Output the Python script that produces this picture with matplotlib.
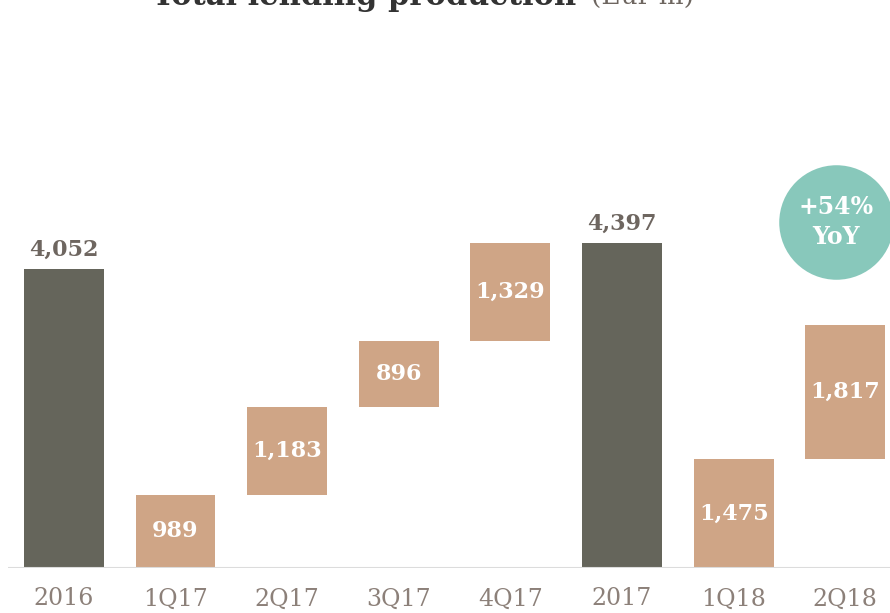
import matplotlib.pyplot as plt

# values (Eur m)
labels = ["2016", "1Q17", "2Q17", "3Q17", "4Q17", "2017", "1Q18", "2Q18"]
values = [4052, 989, 1183, 896, 1329, 4397, 1475, 1817]
is_total = [True, False, False, False, False, True, False, False]
yoy_text = "+54%\nYoY"

DARK = "#65655b"
TAN = "#cfa586"
TEAL = "#88c8bb"
LABEL_GREY = "#6e6660"
TICK_GREY = "#8c8079"

plt.rcParams["font.family"] = ["DejaVu Serif"]

fig = plt.figure(figsize=(8.9, 6.13), dpi=100)
ax = fig.add_axes([8 / 890, 45 / 613, 882 / 890, 568 / 613])

# waterfall bottoms: quarters stack on a running sum, totals reset it
bottoms = []
running = 0
for v, tot in zip(values, is_total):
    if tot:
        bottoms.append(0)
        running = 0
    else:
        bottoms.append(running)
        running += v

x = list(range(len(labels)))
colors = [DARK if t else TAN for t in is_total]
ax.bar(x, values, bottom=bottoms, width=0.715, color=colors, zorder=2)

for xi, v, b, tot in zip(x, values, bottoms, is_total):
    txt = f"{v:,}"
    if tot:
        ax.text(xi, v + 110, txt, ha="center", va="bottom", fontsize=16,
                fontweight="bold", color=LABEL_GREY)
    else:
        ax.text(xi, b + v / 2, txt, ha="center", va="center", fontsize=16,
                fontweight="bold", color="white", zorder=3)

ax.axhline(0, color="#dcdcdc", lw=1.5, zorder=3)
ax.set_xlim(-0.5, 7.4)
ax.set_ylim(0, 7686)

ax.set_xticks(x)
ax.set_xticklabels(labels, fontsize=17, color=TICK_GREY)
ax.tick_params(axis="x", length=0, pad=14)
ax.set_yticks([])
for s in ax.spines.values():
    s.set_visible(False)

# YoY bubble
ax.scatter([0.939], [0.609], s=6800, color=TEAL, transform=ax.transAxes,
           zorder=4, clip_on=False, linewidths=0)
ax.text(0.939, 0.609, yoy_text, transform=ax.transAxes, ha="center",
        va="center", fontsize=17, fontweight="bold", color="white",
        linespacing=1.35, zorder=5)

# title (cut off at the top, as in the reference)
fig.text(0.648, 1 - 5 / 613, "Total lending production", ha="right",
         va="baseline", fontsize=22, fontweight="bold", color="#333333")
fig.text(0.664, 1 - 5 / 613, "(Eur m)", ha="left", va="baseline",
         fontsize=19, color="#6e6660")

fig.savefig("out.png", dpi=100)
